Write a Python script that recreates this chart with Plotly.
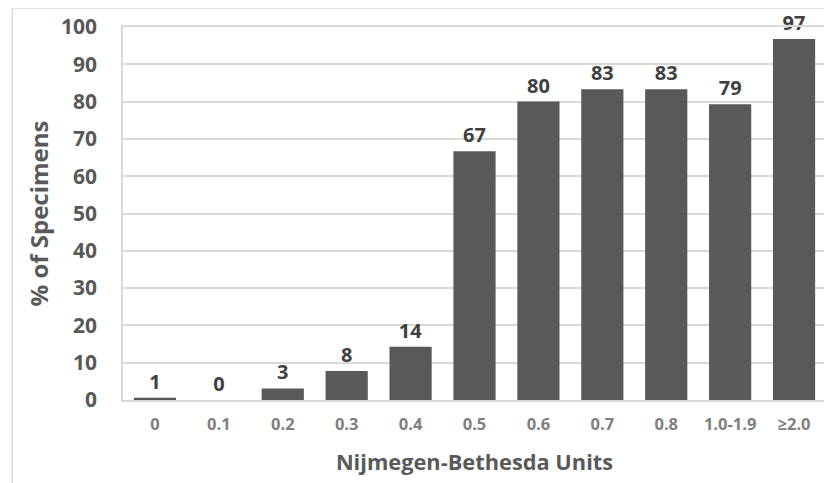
import plotly.graph_objects as go

categories = ["0", "0.1", "0.2", "0.3", "0.4", "0.5", "0.6", "0.7", "0.8", "1.0-1.9", "≥2.0"]
values = [0.6, 0, 3.1, 7.8, 14.3, 66.7, 80.0, 83.3, 83.3, 79.3, 96.8]
y_ticks = list(range(0, 101, 10))

FONT = "Open Sans"
# page body has an 8px default offset; layout numbers below are in figure coordinates
W, H = 824, 475
L, T, R, B = 115, 18, 4, 83
PW, PH = W - L - R, H - T - B

fig = go.Figure(go.Bar(
    x=categories,
    y=values,
    marker=dict(color="#595959", line=dict(width=0)),
    texttemplate="%{y:.0f}",
    textposition="outside",
    cliponaxis=False,
    textfont=dict(family=FONT, size=20, color="#404040", weight="bold"),
    hoverinfo="skip",
))

fig.update_layout(
    width=W, height=H,
    margin=dict(l=L, r=R, t=T, b=B),
    paper_bgcolor="white",
    plot_bgcolor="white",
    bargap=0.34,
    showlegend=False,
    font=dict(family=FONT),
    xaxis=dict(
        type="category",
        showgrid=False,
        showline=True, linecolor="#d9d9d9", linewidth=1.5, mirror=True,
        ticks="",
        ticklabelstandoff=8,
        tickfont=dict(family=FONT, size=16.5, color="#7f7f7f", weight="bold"),
        title=dict(text="Nijmegen-Bethesda Units", standoff=21,
                   font=dict(family=FONT, size=21.8, color="#595959", weight="bold")),
    ),
    yaxis=dict(
        range=[0, 100],
        tickvals=y_ticks,
        showgrid=True, gridcolor="#d9d9d9", gridwidth=1.5,
        showline=True, linecolor="#d9d9d9", linewidth=1.5, mirror=True,
        zeroline=False,
        ticks="",
        ticklabelstandoff=20,
        tickfont=dict(family=FONT, size=21, color="#595959", weight="bold"),
        title=dict(text="% of Specimens", standoff=6,
                   font=dict(family=FONT, size=24, color="#595959", weight="bold")),
    ),
    shapes=[
        dict(type="line", xref="paper", yref="paper",
             x0=(4 - L) / PW, x1=(W + 10 - L) / PW,
             y0=1 + (T - (-1)) / PH, y1=1 + (T - (-1)) / PH,
             line=dict(color="#d9d9d9", width=1.5)),
        dict(type="line", xref="paper", yref="paper",
             x0=(4 - L) / PW, x1=(4 - L) / PW,
             y0=1 + (T - (-1)) / PH, y1=-(B + 10) / PH,
             line=dict(color="#d9d9d9", width=1.5)),
    ],
)

fig.write_html("out.html")
